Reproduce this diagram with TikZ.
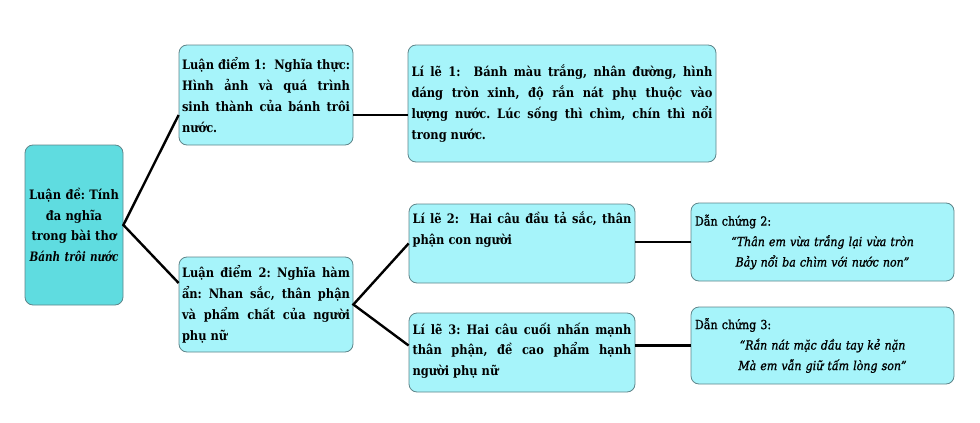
\documentclass[tikz,border=0pt]{standalone}
\usepackage{fontspec}
\setmainfont{DejaVu Serif}[FakeStretch=0.88, ItalicFeatures={FakeStretch=0.9}, BoldItalicFeatures={FakeStretch=0.8}]
\newfontfamily\dcfont{DejaVu Serif}[FakeStretch=0.88, FakeBold=1.2, ItalicFeatures={FakeStretch=0.88, FakeBold=1.2}]
\definecolor{rootfill}{HTML}{5FDCE0}
\definecolor{boxfill}{HTML}{A6F4FA}
\definecolor{boxline}{HTML}{5E858A}
\begin{document}
\frenchspacing
\begin{tikzpicture}[x=1pt,y=-1pt,
  box/.style={draw=boxline, line width=0.8pt, rounded corners=8pt, fill=boxfill, inner sep=0pt},
  link/.style={draw=black, line width=2.4pt, line join=miter},
  txt/.style={font=\fontsize{13}{20.8}\selectfont\bfseries\frenchspacing, align=justify, inner sep=0pt},
  dctxt/.style={font=\fontsize{12.5}{20.5}\selectfont\dcfont, align=center, inner sep=0pt}
]
\useasboundingbox (0,0) rectangle (980,423);

\node[box, fill=rootfill, minimum width=98pt, minimum height=160pt, text width=96pt,
      font=\fontsize{13}{20.8}\selectfont\bfseries, align=center] (root) at (74,225)
  {Luận đề: Tính\\ đa nghĩa\\ trong bài thơ\\ \textit{Bánh trôi nước}};

\node[box, txt, minimum width=174pt, minimum height=100pt, text width=168pt] (ld1) at (266,95)
  {Luận điểm 1:\ \ Nghĩa thực:\linebreak Hình ảnh và quá trình\linebreak sinh thành của bánh trôi\linebreak nước.};

\node[box, txt, minimum width=174pt, minimum height=95pt, text width=168pt] (ld2) at (266,304.5)
  {Luận điểm 2: Nghĩa hàm\linebreak ẩn: Nhan sắc, thân phận\linebreak và phẩm chất của người\linebreak phụ nữ};

\node[box, txt, minimum width=308pt, minimum height=117pt, text width=301pt] (l1) at (562,103.5)
  {Lí lẽ 1:\ \ Bánh màu trắng, nhân đường, hình\linebreak dáng tròn xinh, độ rắn nát phụ thuộc vào\linebreak lượng nước. Lúc sống thì chìm, chín thì nổi\linebreak trong nước.};

\node[box, minimum width=226pt, minimum height=79pt] (l2) at (522,243.5) {};
\node[txt, text width=219pt, anchor=north] (l2t) at ([yshift=-8pt]l2.north)
  {Lí lẽ 2:\ \ Hai câu đầu tả sắc, thân\linebreak phận con người};

\node[box, minimum width=226pt, minimum height=79pt] (l3) at (522,352.5) {};
\node[txt, text width=219pt, anchor=north] (l3t) at ([yshift=-10pt]l3.north)
  {Lí lẽ 3: Hai câu cuối nhấn mạnh\linebreak thân phận, đề cao phẩm hạnh\linebreak người phụ nữ};

\node[box, dctxt, minimum width=263pt, minimum height=78pt, text width=255pt] (dc2) at (822.5,242)
  {\makebox[255pt][l]{Dẫn chứng 2:}\\ \textit{“Thân em vừa trắng lại vừa tròn}\\ \textit{Bảy nổi ba chìm với nước non”}};

\node[box, dctxt, minimum width=263pt, minimum height=77pt, text width=255pt] (dc3) at (822.5,345.5)
  {\makebox[255pt][l]{Dẫn chứng 3:}\\ \textit{“Rắn nát mặc dầu tay kẻ nặn}\\ \textit{Mà em vẫn giữ tấm lòng son”}};

\draw[link] ([yshift=-20pt]ld1.west) -- (root.east) -- ([yshift=21.5pt]ld2.west);
\draw[link] ([yshift=-20pt]ld1.east) -- ([yshift=-20pt]ld1.east -| l1.west);
\draw[link] (l2.west) -- (ld2.east) -- ([yshift=7pt]l3.west);
\draw[link] (dc2.west -| l2.east) -- (dc2.west);
\draw[link] (dc3.west -| l3.east) -- (dc3.west);
\end{tikzpicture}
\end{document}
